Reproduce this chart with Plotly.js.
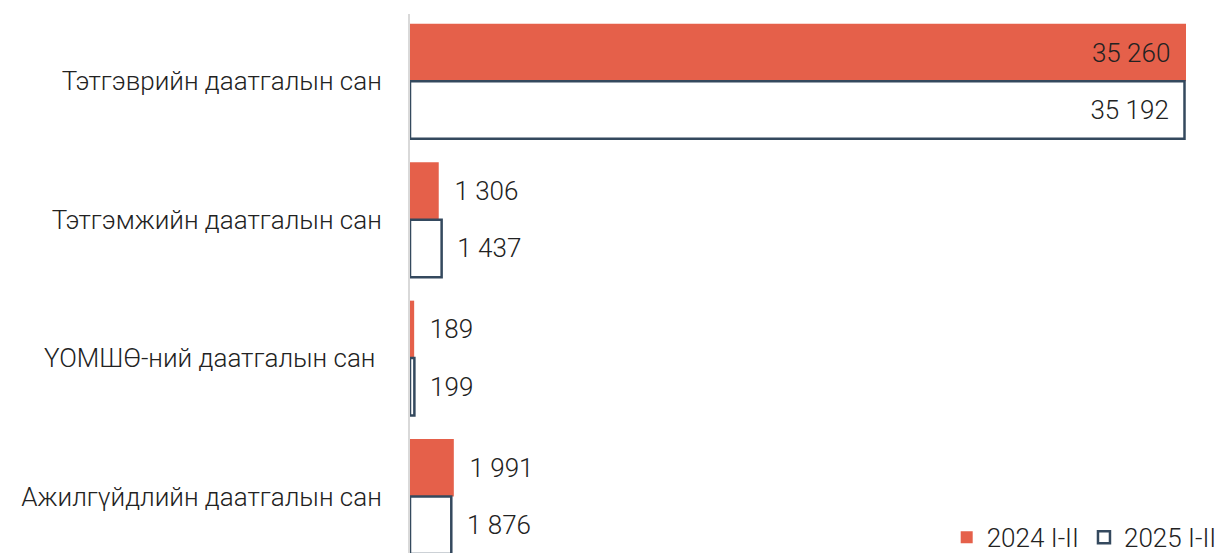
<!DOCTYPE html>
<html>
<head>
<meta charset="utf-8">
<script src="https://cdn.plot.ly/plotly-3.0.1.min.js"></script>
<style>html,body{margin:0;padding:0;background:#fff;}#chart{width:1229px;height:553px;}</style>
</head>
<body>
<div id="chart"></div>
<script>
const categories = ["Тэтгэврийн даатгалын сан", "Тэтгэмжийн даатгалын сан", "ҮОМШӨ-ний даатгалын сан ", "Ажилгүйдлийн даатгалын сан"];
const series2024 = [35260, 1306, 189, 1991];
const series2025 = [35192, 1437, 199, 1876];
const seriesNames = ["2024 I-II", "2025 I-II"];

const NB = "\u00A0";
const inTpl = "%{x:,}" + NB + NB;
const outTpl = NB + NB + "%{x:,}";
const tpl = v => v.map((x, i) => i === 0 ? inTpl : outTpl);
const pos = v => v.map((x, i) => i === 0 ? "inside" : "outside");

const txtFont = {family: "Roboto", size: 26, color: "#222222", weight: 300};

const traces = [
  {
    type: "bar", orientation: "h", name: seriesNames[0],
    y: categories, x: series2024,
    marker: {color: "#E5604A", line: {width: 0}},
    texttemplate: tpl(series2024), textposition: pos(series2024),
    insidetextanchor: "end", textfont: txtFont, insidetextfont: txtFont, outsidetextfont: txtFont,
    cliponaxis: false, hoverinfo: "x+y"
  },
  {
    type: "bar", orientation: "h", name: seriesNames[1],
    y: categories, x: series2025,
    marker: {color: "#FFFFFF", line: {color: "#34495E", width: 2.5}},
    texttemplate: tpl(series2025), textposition: pos(series2025),
    insidetextanchor: "end", textfont: txtFont, insidetextfont: txtFont, outsidetextfont: txtFont,
    cliponaxis: false, hoverinfo: "x+y"
  }
];

const layout = {
  width: 1229, height: 553,
  margin: {l: 410, r: 43, t: 14, b: 0, pad: 0, autoexpand: false},
  paper_bgcolor: "#ffffff", plot_bgcolor: "#ffffff",
  separators: ". ",
  barmode: "group", bargap: 0.17, bargroupgap: 0,
  font: {family: "Roboto", size: 26, color: "#222222", weight: 300},
  xaxis: {range: [0, 35260], visible: false, showgrid: false, zeroline: false},
  yaxis: {
    type: "category", range: [3.408, -0.486],
    showline: true, linecolor: "#D9D9D9", linewidth: 2,
    showgrid: false, zeroline: false, ticks: "",
    ticklabelstandoff: 21,
    tickfont: {family: "Roboto", size: 26, color: "#222222", weight: 300}
  },
  showlegend: true,
  legend: {
    orientation: "h", x: 1.046, xanchor: "right", y: 0.029, yanchor: "middle",
    xref: "paper", yref: "paper",
    bgcolor: "rgba(255,255,255,0)",
    font: {family: "Roboto", size: 26, color: "#222222", weight: 300},
    itemwidth: 30, tracegroupgap: 0
  }
};

Plotly.newPlot("chart", traces, layout, {displayModeBar: false, staticPlot: true});
</script>
</body>
</html>
